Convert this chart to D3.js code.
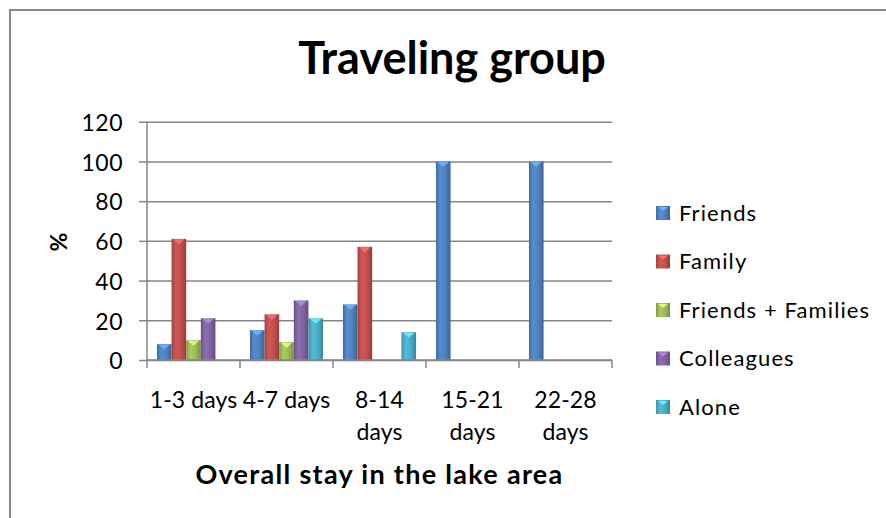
<!DOCTYPE html>
<html>
<head>
<meta charset="utf-8">
<script src="https://cdn.jsdelivr.net/npm/d3@7"></script>
<style>
  body { margin: 0; background: #fff; }
  svg { display: block; }
  text { font-family: Lato, "Open Sans", "DejaVu Sans", sans-serif; fill: #000; }
</style>
</head>
<body>
<svg id="chart" width="886" height="518"></svg>
<script>
// Share of travelling group (%) by length of overall stay
const categories = ["1-3 days", "4-7 days", "8-14 days", "15-21 days", "22-28 days"];
const seriesNames = ["Friends", "Family", "Friends + Families", "Colleagues", "Alone"];
const friends         = [8, 15, 28, 100, 100];
const family          = [61, 23, 57, 0, 0];
const friendsFamilies = [10, 9, 0, 0, 0];
const colleagues      = [21, 30, 0, 0, 0];
const alone           = [0, 21, 14, 0, 0];
const yTicks = [0, 20, 40, 60, 80, 100, 120];
const seriesColors = ["#4F81BD", "#C0504D", "#9BBB59", "#8064A2", "#4BACC6"];

const seriesValues = [friends, family, friendsFamilies, colleagues, alone];

const svg = d3.select("#chart");
const W = 886, H = 518;
const plot = { left: 147, right: 612, top: 121.7, bottom: 360 };

svg.append("rect").attr("width", W).attr("height", H).attr("fill", "#fff");
// chart frame
svg.append("rect")
  .attr("x", 10).attr("y", 10).attr("width", W + 20).attr("height", H + 20)
  .attr("fill", "none").attr("stroke", "#8a8a8a").attr("stroke-width", 2);

const x0 = d3.scaleBand().domain(categories).range([plot.left, plot.right]).padding(0);
const x1 = d3.scaleBand().domain(seriesNames).range([0, x0.bandwidth()])
  .paddingInner(0).paddingOuter(0.68);
const y = d3.scaleLinear().domain([0, 120]).range([plot.bottom, plot.top]);

// gradients giving the bars a rounded, shaded look
const defs = svg.append("defs");
seriesColors.forEach((c, i) => {
  const base = d3.color(c);
  const g = defs.append("linearGradient").attr("id", "grad" + i)
    .attr("x1", "0").attr("x2", "1").attr("y1", "0").attr("y2", "0");
  g.append("stop").attr("offset", "0%").attr("stop-color", base.darker(0.5));
  g.append("stop").attr("offset", "30%").attr("stop-color", base.brighter(0.25));
  g.append("stop").attr("offset", "65%").attr("stop-color", base);
  g.append("stop").attr("offset", "100%").attr("stop-color", base.darker(0.7));
});

// gridlines
const gridG = svg.append("g").attr("transform", `translate(${plot.left},0)`)
  .call(d3.axisLeft(y).tickValues(yTicks).tickSize(-(plot.right - plot.left)).tickFormat(""));
gridG.select(".domain").remove();
gridG.selectAll("line").attr("stroke", "#868686").attr("stroke-width", 1.5);

// y axis
const yAxisG = svg.append("g").attr("transform", `translate(${plot.left},0)`)
  .call(d3.axisLeft(y).tickValues(yTicks).tickSize(8).tickPadding(16));
yAxisG.select(".domain").attr("stroke", "#868686").attr("stroke-width", 1.5)
  .attr("d", `M0,${plot.top}V${plot.bottom}`);
yAxisG.selectAll("line").attr("stroke", "#868686").attr("stroke-width", 1.5);
yAxisG.selectAll("text")
  .style("font-family", "Lato, sans-serif").style("font-size", "23px")
  .style("letter-spacing", "0.5px").attr("dy", "0.38em").attr("fill", "#000");

// bars
const groups = svg.append("g").selectAll("g")
  .data(categories)
  .join("g")
  .attr("transform", d => `translate(${x0(d)},0)`);

const barData = (c, ci) => seriesNames.map((s, si) => ({ s, si, v: seriesValues[si][ci] }))
  .filter(d => d.v > 0);

groups.each(function (c, ci) {
  const g = d3.select(this);
  const bars = barData(c, ci);
  g.selectAll("rect.bar").data(bars).join("rect")
    .attr("class", "bar")
    .attr("x", d => x1(d.s))
    .attr("y", d => y(d.v))
    .attr("width", x1.bandwidth())
    .attr("height", d => y(0) - y(d.v))
    .attr("fill", d => `url(#grad${d.si})`);
  // light bevel cap at the top of each bar
  g.selectAll("path.cap").data(bars).join("path")
    .attr("class", "cap")
    .attr("d", d => {
      const xa = x1(d.s) + 1.5, xb = x1(d.s) + x1.bandwidth() - 1.5;
      const top = y(d.v) + 0.5;
      return `M${xa},${top}L${xb},${top}L${(xa + xb) / 2},${top + 5}Z`;
    })
    .attr("fill", d => d3.color(seriesColors[d.si]).brighter(0.9))
    .attr("opacity", 0.9);
});

// x axis line and category boundary ticks
svg.append("line")
  .attr("x1", plot.left).attr("x2", plot.right)
  .attr("y1", y(0)).attr("y2", y(0))
  .attr("stroke", "#868686").attr("stroke-width", 1.5);
const boundaries = categories.map(c => x0(c)).concat([x0(categories[categories.length - 1]) + x0.bandwidth()]);
svg.append("g").selectAll("line").data(boundaries).join("line")
  .attr("x1", d => d).attr("x2", d => d)
  .attr("y1", y(0)).attr("y2", y(0) + 8)
  .attr("stroke", "#868686").attr("stroke-width", 1.5);

// category labels (longer ones wrap onto two lines)
const catLabels = svg.append("g").selectAll("text").data(categories).join("text")
  .attr("text-anchor", "middle")
  .style("font-size", "23px").style("letter-spacing", "0.1px")
  .attr("transform", d => `translate(${x0(d) + x0.bandwidth() / 2},408)`);
catLabels.each(function (d) {
  const lines = d.length > 8 ? d.split(" ") : [d];
  d3.select(this).selectAll("tspan").data(lines).join("tspan")
    .attr("x", 0).attr("dy", (l, i) => i === 0 ? 0 : 32).text(l => l);
});

// axis titles
svg.append("text")
  .attr("x", (plot.left + plot.right) / 2).attr("y", 484)
  .attr("text-anchor", "middle")
  .style("font-size", "27px").style("font-weight", "bold").style("letter-spacing", "1.3px")
  .text("Overall stay in the lake area");

svg.append("text")
  .attr("transform", "translate(67,242) rotate(-90)")
  .attr("text-anchor", "middle")
  .style("font-size", "23px").style("font-weight", "bold")
  .text("%");

// chart title
svg.append("text")
  .attr("x", 452).attr("y", 74)
  .attr("text-anchor", "middle")
  .style("font-size", "45px").style("font-weight", "bold")
  .text("Traveling group");

// legend
const legend = svg.append("g").selectAll("g").data(seriesNames).join("g")
  .attr("transform", (d, i) => `translate(656,${213 + i * 48.5})`);
legend.append("rect")
  .attr("x", 0).attr("y", -7).attr("width", 14).attr("height", 14)
  .attr("fill", (d, i) => `url(#grad${i})`);
legend.append("path")
  .attr("d", "M2,-6L12,-6L7,-2Z")
  .attr("fill", (d, i) => d3.color(seriesColors[i]).brighter(0.9));
legend.append("text")
  .attr("x", 23).attr("dy", "0.36em")
  .style("font-size", "22px").style("letter-spacing", "1.1px")
  .text(d => d);
</script>
</body>
</html>
